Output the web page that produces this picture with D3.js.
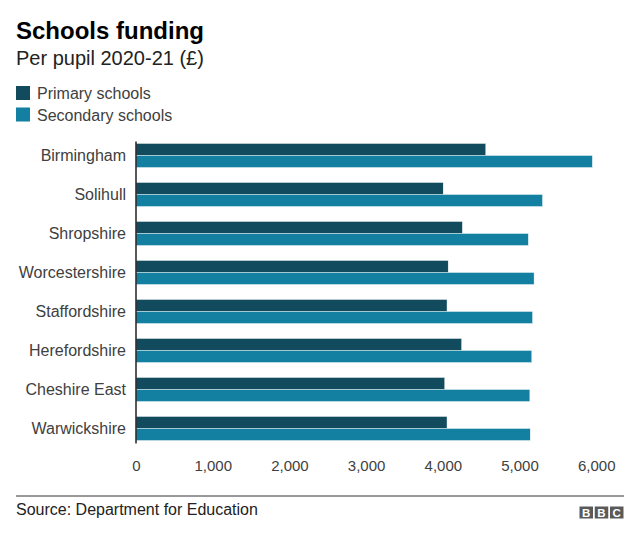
<!DOCTYPE html>
<html>
<head>
<meta charset="utf-8">
<script src="https://cdn.jsdelivr.net/npm/d3@7"></script>
<style>
  html, body { margin: 0; padding: 0; background: #fff; }
  svg { display: block; font-family: "Liberation Sans", Arial, Helvetica, sans-serif; }
</style>
</head>
<body>
<svg id="chart" width="640" height="540"></svg>
<script>
const categories = ["Birmingham", "Solihull", "Shropshire", "Worcestershire", "Staffordshire", "Herefordshire", "Cheshire East", "Warwickshire"];
const seriesNames = ["Primary schools", "Secondary schools"];
const primaryValues = [4560, 4005, 4255, 4070, 4055, 4245, 4025, 4055];
const secondaryValues = [5950, 5300, 5115, 5190, 5170, 5160, 5135, 5140];
const xTickValues = [0, 1000, 2000, 3000, 4000, 5000, 6000];
const seriesColors = ["#124b5e", "#1380a1"];

const titleText = "Schools funding";
const subtitleText = "Per pupil 2020-21 (£)";
const sourceText = "Source: Department for Education";

const svg = d3.select("#chart");

const rows = categories.map((c, i) => ({ category: c, values: [primaryValues[i], secondaryValues[i]] }));

const x = d3.scaleLinear().domain([0, 6000]).range([136, 596.2]);
const y = d3.scaleBand().domain(categories).range([136, 448]).paddingInner(15 / 39).paddingOuter(0.1923);
const ySub = d3.scaleBand().domain(seriesNames).range([0, y.bandwidth()]).padding(0);
const color = d3.scaleOrdinal().domain(seriesNames).range(seriesColors);

// Title & subtitle
svg.append("text").attr("x", 16).attr("y", 38.5).attr("font-size", 24).attr("font-weight", "bold").attr("fill", "#000").text(titleText);
svg.append("text").attr("x", 16).attr("y", 65).attr("font-size", 20).attr("fill", "#222").text(subtitleText);

// Legend
const legend = svg.append("g").selectAll("g").data(seriesNames).join("g")
  .attr("transform", (d, i) => `translate(16, ${86 + i * 21.5})`);
legend.append("rect").attr("width", 14).attr("height", 14).attr("fill", d => color(d));
legend.append("text").attr("x", 21).attr("y", 13).attr("font-size", 16).attr("fill", "#404040").text(d => d);

// Bars
const groups = svg.append("g").selectAll("g").data(rows).join("g")
  .attr("transform", d => `translate(0, ${y(d.category)})`);
groups.selectAll("rect").data(d => d.values.map((v, i) => ({ key: seriesNames[i], value: v }))).join("rect")
  .attr("x", x(0))
  .attr("y", d => ySub(d.key))
  .attr("width", d => x(d.value) - x(0))
  .attr("height", ySub.bandwidth())
  .attr("fill", d => color(d.key))
  .attr("stroke", "#ffffff")
  .attr("stroke-width", 0.4);

// Y axis (category labels)
const yAxis = svg.append("g").attr("transform", `translate(${x(0)}, 0)`)
  .call(d3.axisLeft(y).tickSize(0).tickPadding(10));
yAxis.select(".domain").remove();
yAxis.selectAll("text").attr("font-size", 16).attr("fill", "#404040").attr("font-family", null).attr("dy", "0.35em");

// Vertical baseline
const yStart = y(categories[0]) - 2;
const yEnd = y(categories[categories.length - 1]) + y.bandwidth() + 3;
svg.append("line").attr("x1", x(0)).attr("x2", x(0)).attr("y1", yStart).attr("y2", yEnd)
  .attr("stroke", "#222").attr("stroke-width", 1.5);

// X axis (tick labels)
const xAxis = svg.append("g").attr("transform", "translate(0, 0)")
  .call(d3.axisBottom(x).tickValues(xTickValues).tickSize(0).tickFormat(d3.format(",")));
xAxis.select(".domain").remove();
xAxis.selectAll("text").attr("y", 471).attr("dy", null).attr("font-size", 15).attr("fill", "#404040").attr("font-family", null);

// Footer
svg.append("line").attr("x1", 16).attr("x2", 624).attr("y1", 496).attr("y2", 496).attr("stroke", "#333").attr("stroke-width", 1);
svg.append("text").attr("x", 16).attr("y", 515).attr("font-size", 16).attr("fill", "#222").text(sourceText);

// BBC logo
const bbcLetters = ["B", "B", "C"];
const logo = svg.append("g").attr("transform", "translate(579.5, 506.5)");
const lg = logo.selectAll("g").data(bbcLetters).join("g").attr("transform", (d, i) => `translate(${i * 15.25}, 0)`);
lg.append("rect").attr("width", 13.5).attr("height", 12).attr("fill", "#5a5a5a");
lg.append("text").attr("x", 6.75).attr("y", 10.5).attr("text-anchor", "middle").attr("font-size", 11.5).attr("font-weight", "bold").attr("fill", "#fff").text(d => d);
</script>
</body>
</html>
